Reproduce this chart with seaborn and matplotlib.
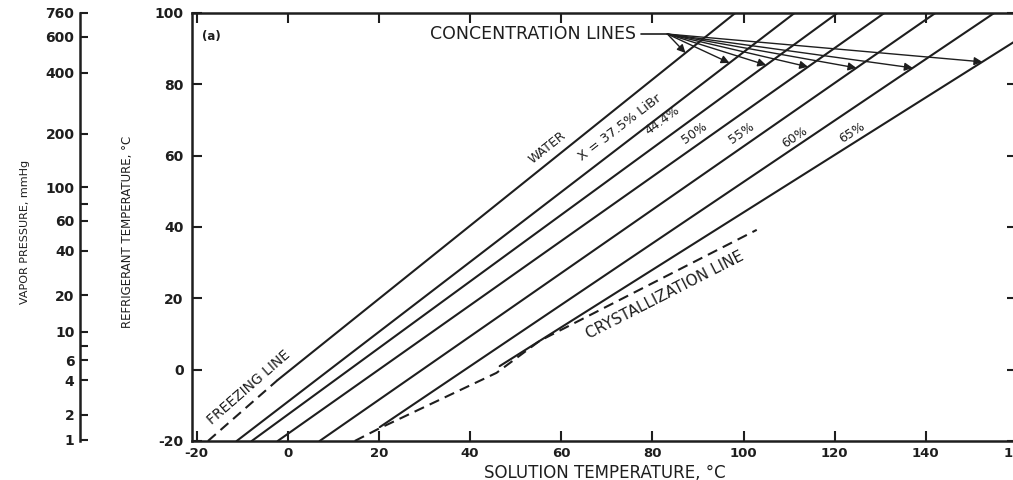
import numpy as np
import pandas as pd
import matplotlib.pyplot as plt
import seaborn as sns

# Duhring chart, LiBr-water. (deg C).
series = ['WATER', '37.5%', '44.4%', '50%', '55%', '60%', '65%']
line_labels = ['WATER', 'X = 37.5% LiBr', '44.4%', '50%', '55%', '60%', '65%']
x_start = [-2.2, -11.2, -7.9, -2.2, 7.0, 20.2, 46.5]
y_start = [-2.9, -20.0, -20.0, -20.0, -20.0, -16.1, 1.0]
x_end = [98.2, 111.2, 120.6, 130.9, 142.1, 155.0, 169.4]
y_end = [100.0, 100.0, 100.0, 100.0, 100.0, 100.0, 100.0]

freeze_x = [-17.5, -2.2]
freeze_y = [-20.0, -2.9]

crys_x = [14.7, 20.2, 45.8, 55.3, 102.9]
crys_y = [-20.0, -16.4, -0.9, 8.1, 39.2]

# vapor pressure scale (mmHg), placed against the refrigerant temperature
vp_pos = [100, 93.3, 83.2, 66.1, 51.2, 46.5, 41.7, 33.3, 20.9, 10.6, 6.6, 2.7, -2.9, -12.7, -19.7]
vp_labels = ['760', '600', '400', '200', '100', '', '60', '40', '20', '10', '', '6', '4', '2', '1']

x_ticks = [-20, 0, 20, 40, 60, 80, 100, 120, 140, 160]
y_ticks = [-20, 0, 20, 40, 60, 80, 100]

# where the concentration arrows hit each line (refrigerant temp)
arrow_y = [88.8, 86.0, 85.4, 84.9, 84.6, 84.6, 86.3]

rows = []
for s, xs, ys, xe, ye in zip(series, x_start, y_start, x_end, y_end):
    rows.append((s, xs, ys))
    rows.append((s, xe, ye))
df = pd.DataFrame(rows, columns=['series', 'solution', 'refrigerant'])

sns.set_theme(style='ticks')
plt.rcParams['font.family'] = ['DejaVu Sans']
ink = '#1e1e1e'

fig = plt.figure(figsize=(10.13, 4.8), dpi=100)
ax = fig.add_axes([192 / 1013, 39 / 480, 825 / 1013, 428 / 480])

sns.lineplot(data=df, x='solution', y='refrigerant', units='series', estimator=None,
             sort=False, color=ink, linewidth=1.5, ax=ax, legend=False)
ax.plot(freeze_x, freeze_y, color=ink, lw=1.5, linestyle=(0, (5, 3)))
ax.plot(crys_x, crys_y, color=ink, lw=1.5, linestyle=(0, (5, 3)))

ax.set_xlim(-21, 160)
ax.set_ylim(-20, 100)
ax.set_xticks(x_ticks, [str(t) for t in x_ticks], fontsize=9.5, fontweight='bold', color=ink)
ax.set_yticks(y_ticks, [str(t) for t in y_ticks], fontsize=10, fontweight='bold', color=ink)
ax.tick_params(direction='in', length=7, width=1.5, top=True, right=True, colors=ink)
ax.tick_params(axis='x', pad=4)
ax.tick_params(axis='y', pad=6)
for sp in ax.spines.values():
    sp.set_linewidth(1.8)
    sp.set_color(ink)
ax.set_xlabel('SOLUTION TEMPERATURE, °C', fontsize=12, labelpad=3, color=ink)
ax.set_ylabel('')

# line labels
label_xy = [(57.0, 62.2), (72.8, 67.9), (82.2, 70.0), (89.3, 66.4), (99.6, 66.4), (111.2, 65.2), (123.9, 66.4)]
label_size = [9, 9.5, 9, 9, 9, 9, 9]
for name, (lx, ly), fs, xs, ys, xe, ye in zip(line_labels, label_xy, label_size,
                                              x_start, y_start, x_end, y_end):
    ang = np.degrees(np.arctan2(ye - ys, xe - xs))
    ax.text(lx, ly, name, rotation=ang, transform_rotates_text=True, rotation_mode='anchor',
            ha='center', va='center', fontsize=fs, color=ink)

ang = np.degrees(np.arctan2(freeze_y[1] - freeze_y[0], freeze_x[1] - freeze_x[0]))
ax.text(-8.6, -5.1, 'FREEZING LINE', rotation=ang, transform_rotates_text=True,
        rotation_mode='anchor', ha='center', va='center', fontsize=10, color=ink)
ang = np.degrees(np.arctan2(crys_y[-1] - crys_y[-2], crys_x[-1] - crys_x[-2]))
ax.text(82.7, 20.9, 'CRYSTALLIZATION LINE', rotation=ang, transform_rotates_text=True,
        rotation_mode='anchor', ha='center', va='center', fontsize=11, color=ink)

ax.text(-16.7, 93.3, '(a)', fontsize=8.5, fontweight='bold', ha='center', va='center', color=ink)

# concentration lines callout
origin = (83.3, 94.1)
ax.text(76.5, 94.1, 'CONCENTRATION LINES', ha='right', va='center', fontsize=12.5, color=ink)
ax.plot([77.6, origin[0]], [origin[1], origin[1]], color=ink, lw=1.2)
for ty, xs, ys, xe, ye in zip(arrow_y, x_start, y_start, x_end, y_end):
    tx = np.interp(ty, [ys, ye], [xs, xe])
    ax.annotate('', xy=(tx, ty), xytext=origin,
                arrowprops=dict(arrowstyle='-|>', color=ink, lw=1.0, mutation_scale=12,
                                shrinkA=0, shrinkB=0))

# vapor pressure scale on the far left
vax = fig.add_axes([80 / 1013, 39 / 480, 0.0001, 428 / 480])
vax.set_facecolor('none')
vax.set_ylim(-20, 100)
vax.set_xticks([])
vax.set_yticks(vp_pos, vp_labels, fontsize=10, fontweight='bold', color=ink)
vax.tick_params(axis='y', direction='in', length=6, width=1.5, pad=4, colors=ink)
for side in ['top', 'right', 'bottom']:
    vax.spines[side].set_visible(False)
vax.spines['left'].set_linewidth(1.8)
vax.spines['left'].set_color(ink)

fig.text(25 / 1013, 0.517, 'VAPOR PRESSURE, mmHg', rotation=90, ha='center', va='center',
         fontsize=8, color=ink)
fig.text(128 / 1013, 0.517, 'REFRIGERANT TEMPERATURE, °C', rotation=90, ha='center',
         va='center', fontsize=8.5, color=ink)

fig.savefig('out.png', dpi=100)
